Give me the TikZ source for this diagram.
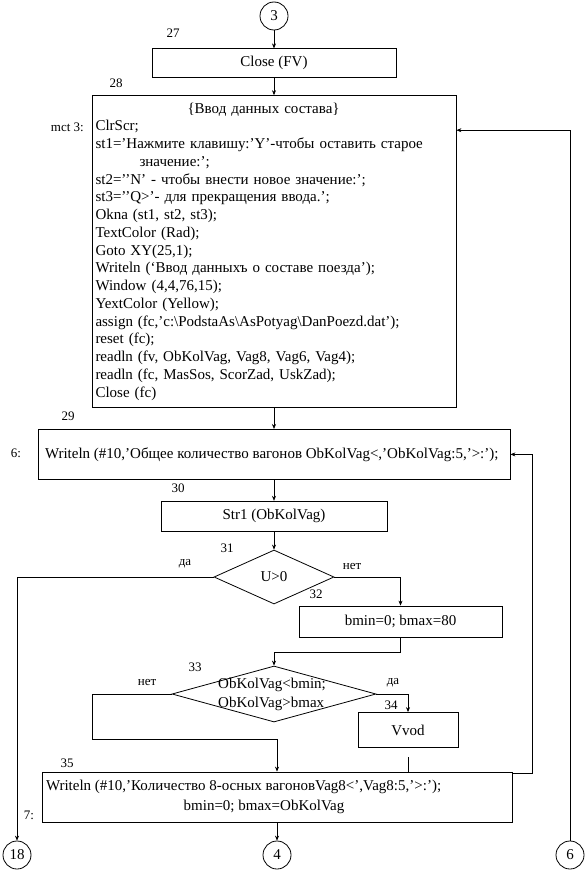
\documentclass[tikz,border=0pt]{standalone}
\usepackage{fontspec}
\setmainfont{Liberation Serif}
\usetikzlibrary{arrows.meta, shapes.geometric, positioning}

\begin{document}
\begin{tikzpicture}[
    x=1pt, y=-1pt,
    node distance=18pt,
    every node/.style={font=\fontsize{15}{17.75}\selectfont},
    process/.style={
        rectangle,
        minimum height=30pt,
        text centered,
        line width=0.8pt,
        draw=black
    },
    listing/.style={
        rectangle,
        align=left,
        inner xsep=3.5pt,
        line width=0.8pt,
        draw=black
    },
    decision/.style={
        diamond,
        inner sep=0pt,
        line width=0.8pt,
        draw=black
    },
    connector/.style={
        circle,
        minimum size=28pt,
        inner sep=0pt,
        line width=0.8pt,
        draw=black
    },
    num/.style={font=\fontsize{13}{15}\selectfont, inner sep=0pt},
    arrow/.style={line width=0.6pt, -{Stealth[length=5pt, width=4pt]}},
    line/.style={line width=0.6pt}
]
\useasboundingbox (0,0) rectangle (588,872);

\node (c3) [connector] at (274,16) {3};
\node (close) [process, minimum width=244pt, minimum height=29pt, below=18pt of c3] {Close (FV)};

\node (data) [listing, text width=357pt, minimum height=312pt, below=17pt of close] {%
\hspace*{92pt}\{Ввод данных состава\}\\
ClrScr;\\
st1=’Нажмите клавишу:’Y’-чтобы оставить старое\\
\hspace*{44pt}значение:’;\\
st2=’’N’ - чтобы внести новое значение:’;\\
st3=’’Q>’- для прекращения ввода.’;\\
Okna (st1, st2, st3);\\
TextColor (Rad);\\
Goto XY(25,1);\\
Writeln (‘Ввод данныхъ о составе поезда’);\\
Window (4,4,76,15);\\
YextColor (Yellow);\\
assign (fc,’c:\textbackslash PodstaAs\textbackslash AsPotyag\textbackslash DanPoezd.dat’);\\
reset (fc);\\
readln (fv, ObKolVag, Vag8, Vag6, Vag4);\\
readln (fc, MasSos, ScorZad, UskZad);\\
Close (fc)};

\node (w29) [listing, inner xsep=7pt, minimum height=50pt, below=21pt of data]
    {\makebox[458pt][l]{Writeln (\#10,’Общее количество вагонов ObKolVag<,’ObKolVag:5,’>:’);}};
\node (str1) [process, minimum width=226pt, below=21pt of w29] {Str1 (ObKolVag)};
\node (u0) [decision, minimum width=120pt, minimum height=54pt, below=18pt of str1] {U>0};

\node (bmin) [process, minimum width=203pt, minimum height=31pt] at (400.5,621.5) {bmin=0; bmax=80};
\node (d33) [decision, minimum width=204pt, minimum height=56pt] at (274,694) {};
\node (d33text) [anchor=west, align=left, inner sep=0pt, font=\fontsize{15}{19}\selectfont] at (218,694)
    {ObKolVag<bmin;\\ObKolVag>bmax};
\node (vvod) [process, minimum width=100pt, minimum height=35pt] at (408,730) {Vvod};

\node (w35) [listing, inner xsep=4pt, minimum height=50pt, font=\fontsize{15}{20}\selectfont] at (277,797)
    {\makebox[462pt][l]{Writeln (\#10,’Количество 8-осных вагоновVag8<’,Vag8:5,’>:’);}\\
     \makebox[462pt][c]{\hspace*{-26pt}bmin=0; bmax=ObKolVag}};

\node (c18) [connector] at (17,855) {18};
\node (c4)  [connector] at (277,855) {4};
\node (c6)  [connector] at (570,855) {6};

% numbers and marks
\node (n27) [num] at (173,33) {27};
\node (n28) [num] at (116,83) {28};
\node (m3)  [num, anchor=east] at (84,127) {mct 3:};
\node (n29) [num] at (68,416) {29};
\node (m6)  [num] at (16,453) {6:};
\node (n30) [num] at (178,488) {30};
\node (n31) [num] at (227,548) {31};
\node (yes1) [num] at (185,564) {да};
\node (no1)  [num] at (352,566) {нет};
\node (n32) [num] at (316,594) {32};
\node (n33) [num] at (195,667) {33};
\node (no2)  [num] at (147,682) {нет};
\node (yes2) [num] at (393,683) {да};
\node (n34) [num] at (391,705) {34};
\node (n35) [num] at (67,763) {35};
\node (m7)  [num] at (29,815) {7:};

\coordinate (j1) at (274,652);
\coordinate (j2) at (92,739);
\coordinate (vstub) at (408,757);

\draw [arrow] (c3) -- (close);
\draw [arrow] (close) -- (data);
\draw [arrow] (data) -- (w29);
\draw [arrow] (w29) -- (str1);
\draw [arrow] (str1) -- (u0);
\draw [arrow] (u0.west) -| (c18.north);
\draw [arrow] (u0.east) -| (bmin.north);
\draw [arrow] (bmin.south) |- (j1) -- (d33.north);
\draw [arrow] (d33.east) -| (vvod.north);
\draw [arrow] (d33.west) -| (j2) -| (w35.north);
\draw [line] (vstub) -- (vstub |- w35.north);
\draw [arrow] (w35) -- (c4);
\draw [arrow] ([yshift=-2pt]w35.north east) -- ++(20,0) |- (w29.east);
\draw [arrow] (c6.north) |- ([yshift=-35pt]data.north east);

\end{tikzpicture}
\end{document}
